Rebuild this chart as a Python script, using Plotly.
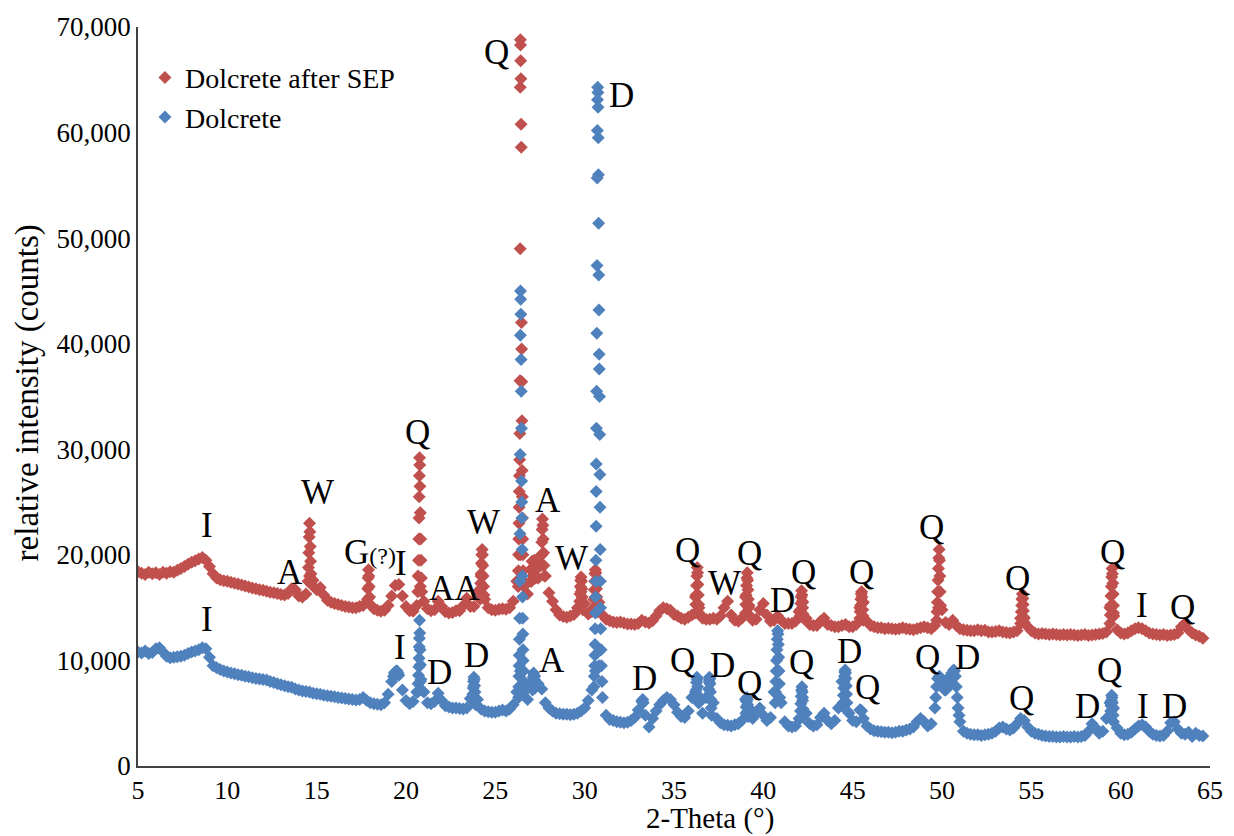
import numpy as np
import plotly.graph_objects as go

# ---------------- data ----------------
grid_start = 5.0
grid_step = 0.2
grid_n = 299  # 5.0 ... 64.6

# Dolcrete after SEP, counts on the 0.2 deg grid
red_grid = [
    18400, 18250, 18150, 18350, 18200, 18300, 18150, 18350, 18250, 18400,
    18350, 18550, 18700, 18900, 19100, 19300, 19450, 19600, 19750, 19500,
    18900, 18200, 17800, 17650, 17550, 17500, 17400, 17300, 17250, 17150,
    17050, 16950, 16850, 16800, 16700, 16650, 16550, 16450, 16400, 16350,
    16250, 16200, 16350, 16800, 16700, 16100, 16000, 16300, 18000, 17600,
    16700, 16900, 16200, 15700, 15500, 15400, 15300, 15200, 15100, 15050,
    15000, 15000, 15100, 15200, 15500, 15300, 14900, 14750, 14650, 14750,
    15200, 16100, 17100, 17200, 16100, 15100, 14700, 14650, 15200, 17000,
    15600, 14900, 14700, 14800, 15600, 15100, 14600, 14500, 14550, 14700,
    14700, 15200, 15900, 15100, 15100, 16500, 18000, 15800, 15000, 14800,
    14750, 14850, 14900, 14850, 15000, 15600, 17500, 20000, 17000, 16300,
    17500, 19000, 17800, 20000, 18000, 16400, 15600, 14800, 14300, 14150,
    14100, 14200, 14350, 15000, 16500, 15400, 14400, 14600, 16000, 15500,
    14300, 13900, 13750, 13650, 13600, 13650, 13550, 13450, 13450, 13400,
    13500, 13800, 13650, 13550, 13750, 14200, 14700, 15000, 14900, 14750,
    14350, 14200, 14000, 13900, 14100, 14300, 16000, 15000, 14000, 13900,
    13900, 14000, 13900, 14200, 15000, 15600, 14300, 13800, 13700, 14000,
    16000, 15200, 13800, 13900, 14800, 15400, 14300, 13700, 13800, 14200,
    13800, 13500, 13500, 13500, 13700, 14600, 15500, 14000, 13400, 13300,
    13300, 13700, 14000, 13400, 13300, 13200, 13200, 13300, 13400, 13200,
    13200, 13400, 15000, 15500, 13700, 13300, 13200, 13100, 13100, 13000,
    13050, 13000, 12950, 13000, 13100, 13000, 12950, 12900, 13000, 13100,
    13200, 13100, 13000, 13300, 15000, 14800, 13600, 13400, 13800, 13300,
    13000, 12900, 12850, 12800, 12800, 12900, 12800, 12850, 12700, 12700,
    12750, 12800, 12700, 12650, 12600, 12700, 12800, 14000, 14000, 13200,
    12800, 12600, 12500, 12550, 12500, 12450, 12500, 12450, 12400, 12450,
    12400, 12450, 12400, 12350, 12400, 12450, 12350, 12400, 12450, 12500,
    12550, 12700, 15000, 14500, 12900, 12600, 12500, 12600, 12800, 13000,
    13100, 13000, 12800, 12600, 12500, 12450, 12400, 12450, 12350, 12400,
    12450, 12600, 13200, 13500, 12900, 12600, 12400, 12300, 12100,
]

# Dolcrete, counts on the 0.2 deg grid
blue_grid = [
    10800, 10700, 10900, 10650, 10750, 11100, 11200, 10800, 10400, 10250,
    10300, 10350, 10400, 10500, 10650, 10800, 10900, 11000, 11200, 11100,
    10300, 9500, 9300, 9150, 9000, 8900, 8800, 8750, 8650, 8600,
    8500, 8450, 8350, 8300, 8250, 8200, 8150, 8000, 7900, 7800,
    7700, 7600, 7500, 7450, 7300, 7200, 7100, 7050, 7000, 6900,
    6850, 6800, 6700, 6650, 6600, 6550, 6500, 6450, 6400, 6350,
    6300, 6250, 6300, 6500, 6200, 6000, 5900, 5850, 5800, 6000,
    6800, 8000, 8900, 8600, 7200, 6200, 5900, 6100, 7000, 8000,
    7000, 6000, 5900, 6100, 6900, 6200, 5700, 5600, 5500, 5500,
    5450, 5400, 5500, 6400, 7600, 6300, 5400, 5200, 5150, 5100,
    5100, 5200, 5300, 5200, 5400, 5800, 7000, 9000, 7000, 6300,
    7500, 8500, 7800, 7300, 6000, 5500, 5200, 5000, 4950, 4900,
    4900, 4850, 4900, 5000, 5200, 5500, 6200, 7200, 9000, 9500,
    6500, 4800, 4400, 4300, 4200, 4150, 4100, 4150, 4300, 4600,
    5300, 6100, 4800, 3700, 4500, 5200, 5800, 6200, 6500, 6300,
    5800, 5100, 4700, 4600, 5200, 6500, 7000, 6000, 5000, 6500,
    8300, 6000, 4500, 4100, 3900, 3850, 3800, 3900, 4000, 4300,
    6300, 5500, 4500, 5000, 5500, 4800, 4300, 4600, 7000, 9000,
    6000, 4200, 3800, 3700, 3800, 4500, 6500, 5000, 4000, 3800,
    3900, 4600, 5000, 4300, 4000, 4300, 5500, 8000, 7500, 5000,
    4300, 4200, 5300, 4500, 3800, 3500, 3350, 3300, 3250, 3200,
    3200, 3150, 3200, 3300, 3300, 3400, 3500, 3700, 4200, 4500,
    4200, 3800, 4000, 5500, 8300, 8000, 7200, 8000, 8800, 7500,
    4200, 3300, 3100, 3000, 2950, 2950, 2900, 2950, 3000, 3100,
    3300, 3600, 3700, 3500, 3400, 3600, 4000, 4500, 4300, 3700,
    3300, 3100, 3000, 2900, 2850, 2800, 2800, 2750, 2750, 2800,
    2750, 2750, 2800, 2750, 2800, 2900, 3300, 4000, 3600, 3100,
    3300, 4500, 6000, 5500, 3600, 3100, 2950, 3000, 3200, 3500,
    3800, 3900, 3700, 3300, 3000, 2900, 2850, 2900, 3300, 4100,
    4200, 3500, 3100, 3000, 3200, 2800, 3100, 2900, 2850,
]

# extra points on the sharp reflections
red_peak_x = [
    14.52, 14.54, 14.56, 14.58, 14.60, 14.62, 14.64, 14.66, 14.68, 14.70,
    17.84, 17.86, 17.88, 17.90, 17.92, 17.94, 17.96,
    20.66, 20.68, 20.70, 20.72, 20.73, 20.74, 20.75, 20.76, 20.77, 20.78, 20.80, 20.82, 20.84, 20.86, 20.88,
    24.14, 24.16, 24.18, 24.20, 24.22, 24.24, 24.26, 24.28, 24.30, 24.32, 24.34, 24.36,
    26.28, 26.29, 26.30, 26.31, 26.32, 26.33, 26.34, 26.35, 26.36, 26.37,
    26.38, 26.39, 26.395, 26.40, 26.41, 26.42, 26.43, 26.44, 26.45, 26.46,
    26.47, 26.48, 26.49, 26.50, 26.51, 26.52, 26.53, 26.54, 26.56, 26.58,
    27.02, 27.04, 27.06, 27.08, 27.10, 27.14, 27.18, 27.22, 27.26,
    27.56, 27.58, 27.60, 27.62, 27.64, 27.66, 27.68, 27.70, 27.72, 27.75,
    29.70, 29.72, 29.74, 29.76, 29.78, 29.80, 29.82, 29.84, 29.86, 29.88, 29.90,
    30.50, 30.52, 30.54, 30.56, 30.58, 30.60, 30.62, 30.64, 30.66, 30.68, 30.70, 30.72,
    36.20, 36.22, 36.24, 36.26, 36.28, 36.30, 36.32, 36.34, 36.36, 36.38, 36.40,
    39.00, 39.02, 39.04, 39.06, 39.08, 39.10, 39.12, 39.14, 39.16, 39.18, 39.20,
    42.06, 42.08, 42.10, 42.12, 42.14, 42.16, 42.18, 42.20, 42.22, 42.24,
    45.40, 45.42, 45.44, 45.46, 45.48, 45.50, 45.52, 45.54, 45.56, 45.58, 45.60,
    49.70, 49.72, 49.74, 49.76, 49.78, 49.80, 49.82, 49.84, 49.86, 49.88, 49.90, 49.92,
    54.40, 54.42, 54.44, 54.46, 54.48, 54.50, 54.52, 54.54, 54.56, 54.58, 54.60,
    59.40, 59.42, 59.44, 59.46, 59.48, 59.50, 59.52, 59.54, 59.56, 59.58, 59.60, 59.62,
]
red_peak_y = [
    17500, 18800, 20200, 21700, 23000, 22200, 20800, 19400, 18200, 17200,
    15800, 16800, 17800, 18600, 18000, 17000, 16000,
    16500, 18000, 19500, 21500, 23500, 25500, 27500, 29200, 28500, 26500, 24000, 21500, 19500, 17800, 16500,
    15800, 16500, 17300, 18200, 19200, 20000, 20500, 20000, 19000, 18000, 17000, 16200,
    17000, 18500, 20000, 21500, 23000, 24500, 26000, 27500, 29000, 31500,
    36500, 49000, 64300, 68800, 68300, 66800, 65100, 60800, 58600, 42000,
    39500, 36400, 32700, 28000, 25500, 23500, 21500, 20000, 18500, 17500,
    17500, 18500, 19400, 18800, 18000, 18800, 19500, 18500, 17800,
    19000, 20000, 21200, 22400, 23400, 22800, 21500, 20200, 19000, 18000,
    15000, 15600, 16300, 17000, 17600, 17900, 17500, 16800, 16000, 15300, 14800,
    15000, 15800, 16700, 17500, 18200, 18600, 18300, 17600, 16800, 16000, 15200, 14600,
    14500, 15300, 16200, 17100, 18000, 18800, 18300, 17200, 16200, 15300, 14500,
    14500, 15300, 16200, 17100, 17800, 18300, 17600, 16700, 15800, 15000, 14300,
    14200, 14800, 15400, 16000, 16600, 16200, 15600, 15000, 14400, 14000,
    14000, 14600, 15200, 15800, 16300, 16500, 16000, 15400, 14800, 14200, 13800,
    13800, 14600, 15500, 16500, 17600, 18700, 19700, 20500, 19500, 18000, 16500, 15200,
    13500, 14000, 14600, 15200, 15800, 16300, 15900, 15300, 14700, 14100, 13600,
    13500, 14300, 15200, 16100, 17000, 17900, 18700, 18200, 17300, 16300, 15200, 14200,
]

blue_peak_x = [
    19.30, 19.35, 19.45, 19.50, 19.55,
    20.66, 20.68, 20.70, 20.72, 20.73, 20.74, 20.75, 20.76, 20.77, 20.79, 20.81, 20.84, 20.88,
    23.72, 23.74, 23.76, 23.78, 23.80, 23.82, 23.84, 23.86, 23.88, 23.90,
    26.30, 26.31, 26.32, 26.33, 26.34, 26.35, 26.36, 26.37, 26.38, 26.39,
    26.40, 26.41, 26.42, 26.43, 26.44, 26.45, 26.46, 26.47, 26.48, 26.49,
    26.50, 26.51, 26.52, 26.53, 26.54, 26.55, 26.56, 26.58, 26.60, 26.63,
    27.08, 27.10, 27.12, 27.14, 27.16, 27.18, 27.20, 27.22, 27.24,
    30.52, 30.54, 30.56, 30.57, 30.58, 30.59, 30.60, 30.61, 30.62, 30.63,
    30.64, 30.645, 30.65, 30.66, 30.67, 30.68, 30.69, 30.70, 30.71, 30.72,
    30.73, 30.74, 30.75, 30.76, 30.77, 30.78, 30.79, 30.80, 30.81, 30.82,
    30.83, 30.84, 30.85, 30.86, 30.87, 30.88, 30.89, 30.90, 30.92, 30.94, 30.97,
    33.22, 33.25, 33.28,
    36.22, 36.24, 36.26, 36.28, 36.30, 36.32, 36.34, 36.36,
    36.92, 36.94, 36.96, 36.98, 37.00, 37.02, 37.04, 37.06, 37.08, 37.10,
    39.02, 39.04, 39.06, 39.08, 39.10, 39.12, 39.14, 39.16,
    40.66, 40.68, 40.70, 40.72, 40.74, 40.76, 40.78, 40.80, 40.82, 40.84, 40.86, 40.88, 40.90, 40.92,
    42.06, 42.08, 42.10, 42.12, 42.14, 42.16, 42.18, 42.20, 42.22, 42.24,
    44.46, 44.48, 44.50, 44.52, 44.54, 44.56, 44.58, 44.60, 44.62, 44.64, 44.66, 44.68, 44.70,
    45.45, 45.50,
    49.65, 49.70, 49.75, 49.85, 49.90, 49.95, 50.05, 50.10, 50.15, 50.25,
    50.30, 50.35, 50.45, 50.50, 50.55, 50.65, 50.70, 50.75, 50.85, 50.90, 50.95,
    59.42, 59.44, 59.46, 59.48, 59.50, 59.52, 59.54, 59.56, 59.58, 59.60,
]
blue_peak_y = [
    8500, 8800, 9000, 9000, 8800,
    7000, 7800, 8600, 9400, 10200, 11300, 12100, 13800, 12600, 11000, 9600, 8200, 7200,
    6200, 6800, 7400, 8000, 8400, 8200, 7600, 7000, 6400, 5800,
    6500, 7500, 8500, 9500, 10500, 12000, 14000, 17500, 22000, 29500,
    40800, 45000, 44200, 42800, 38500, 35500, 32000, 27000, 25000, 23500,
    20500, 18000, 16000, 14000, 12500, 11000, 10000, 9000, 8000, 7200,
    7200, 7800, 8400, 8800, 8600, 8200, 7800, 7400, 7600,
    7500, 8500, 9500, 10500, 11500, 13000, 14500, 16000, 17500, 19500,
    22700, 26000, 28600, 32000, 35500, 41000, 47400, 55700, 60200, 63100,
    64300, 63800, 62400, 59500, 56000, 51400, 46500, 43200, 39000, 37600,
    35000, 31400, 27600, 24500, 20500, 17500, 15000, 13000, 11000, 9500, 8000,
    6200, 6300, 6000,
    6500, 7200, 7900, 8400, 8200, 7500, 6700, 6000,
    6500, 7300, 8000, 8400, 8300, 7800, 7000, 6300, 5500, 4800,
    5000, 5600, 6100, 6500, 6300, 5800, 5200, 4700,
    6000, 7000, 8000, 9000, 10000, 11000, 12000, 12800, 12500, 11500, 10300, 9000, 7800, 6500,
    4500, 5200, 5900, 6600, 7200, 7500, 7000, 6200, 5400, 4600,
    6000, 6700, 7400, 8000, 8500, 8900, 9100, 8800, 8300, 7600, 6800, 6000, 5200,
    5300, 5200,
    6500, 7500, 8300, 8500, 8400, 8200, 7800, 7500, 7200, 7300,
    7700, 8000, 8400, 8600, 8800, 9100, 9000, 8500, 6500, 5500, 4800,
    4600, 5200, 5700, 6200, 6700, 6500, 6000, 5400, 4800, 4200,
]

# phase labels: text, 2-theta, counts
red_labels = ["I", "A", "W", "G<span style='font-size:24px'>(?)</span>", "I", "Q", "AA", "W", "Q", "A",
              "W", "D", "Q", "W", "Q", "D", "Q", "Q", "Q", "Q", "Q", "I", "Q"]
red_label_x = [8.86, 13.51, 15.02, 18.00, 19.70, 20.67, 22.70, 24.31, 25.09, 27.94,
               29.29, 32.08, 35.78, 37.85, 39.25, 41.09, 42.27, 45.52, 49.43, 54.24, 59.56, 61.18, 63.48]
red_label_y = [22820, 18370, 25950, 20270, 19220, 31630, 16860, 23110, 67620, 25190,
               19700, 63540, 20460, 17330, 20170, 15720, 18370, 18370, 22630, 17800, 20270, 15250, 15060]

blue_labels = ["I", "I", "D", "D", "A", "D", "Q", "D", "Q", "Q", "D", "Q", "Q", "D", "Q", "D", "Q", "I", "D"]
blue_label_x = [8.86, 19.66, 21.90, 23.97, 28.17, 33.37, 35.50, 37.74, 39.25, 42.16,
                44.84, 45.85, 49.21, 51.45, 54.47, 58.16, 59.39, 61.24, 63.03]
blue_label_y = [13830, 11270, 8810, 10510, 10040, 8330, 10040, 9560, 7860, 9850,
                10800, 7390, 10320, 10320, 6440, 5590, 9090, 5590, 5590]

x_ticks = [5, 10, 15, 20, 25, 30, 35, 40, 45, 50, 55, 60, 65]
y_ticks = [0, 10000, 20000, 30000, 40000, 50000, 60000, 70000]

x_title = "2-Theta (°)"
y_title = "relative intensity (counts)"

# ---------------- figure ----------------
grid_x = np.round(grid_start + grid_step * np.arange(grid_n), 2)
red_x = np.concatenate([grid_x, red_peak_x])
red_y = np.concatenate([red_grid, red_peak_y])
blue_x = np.concatenate([grid_x, blue_peak_x])
blue_y = np.concatenate([blue_grid, blue_peak_y])

RED = "#C0504D"
BLUE = "#4F81BD"
SERIF = "Liberation Serif"

fig = go.Figure()
fig.add_trace(go.Scatter(x=red_x, y=red_y, mode="markers", name="Dolcrete after SEP",
                         legendgroup="a",
                         marker=dict(symbol="diamond", size=10, color=RED, line=dict(width=0))))
fig.add_trace(go.Scatter(x=blue_x, y=blue_y, mode="markers", name="Dolcrete",
                         legendgroup="b",
                         marker=dict(symbol="diamond", size=10, color=BLUE, line=dict(width=0))))

for t, x, y in zip(red_labels + blue_labels, red_label_x + blue_label_x, red_label_y + blue_label_y):
    fig.add_annotation(x=x, y=y, text=t, showarrow=False,
                       font=dict(family=SERIF, size=35, color="black"),
                       xanchor="center", yanchor="middle")

# axis titles
fig.add_annotation(xref="paper", yref="paper", x=0.534, y=-0.0947, text=x_title, showarrow=False,
                   font=dict(family=SERIF, size=29, color="black"), xanchor="center", yanchor="bottom",
                   borderpad=0)
fig.add_annotation(xref="paper", yref="paper", x=-0.103, y=0.505, text=y_title, showarrow=False,
                   textangle=-90, font=dict(family=SERIF, size=33, color="black"),
                   xanchor="center", yanchor="middle")

# the page adds an 8 px body margin, so the figure is 8 px smaller and margins shifted
fig.update_layout(
    width=1226, height=828,
    margin=dict(l=130, r=24, t=19, b=70),
    paper_bgcolor="white", plot_bgcolor="white",
    font=dict(family=SERIF, color="black"),
    showlegend=True,
    legend=dict(x=0.0065, y=0.965, xanchor="left", yanchor="top",
                font=dict(family=SERIF, size=28, color="black"),
                bgcolor="rgba(0,0,0,0)", traceorder="grouped", tracegroupgap=0,
                itemwidth=30),
    xaxis=dict(range=[5, 65], tickvals=x_ticks, showline=True, linecolor="#404040", linewidth=1.5,
               ticks="", showgrid=False, zeroline=False, automargin=False,
               tickfont=dict(family=SERIF, size=26, color="black")),
    yaxis=dict(range=[0, 70000], tickvals=y_ticks, tickformat=",", showline=True, linecolor="#404040",
               linewidth=1.5, ticks="", showgrid=False, zeroline=False, automargin=False,
               tickfont=dict(family=SERIF, size=27, color="black")),
)

fig.write_html("out.html")
